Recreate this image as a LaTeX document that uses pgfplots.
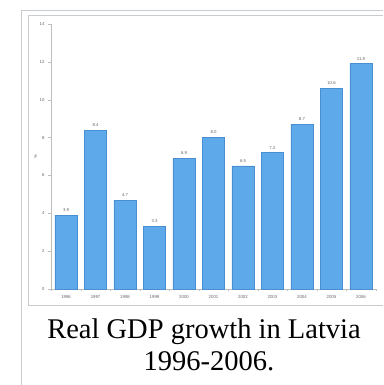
\documentclass[border=0pt]{standalone}
\usepackage{fontspec}
\setmainfont{Liberation Serif}
\newfontfamily\chartsans{Liberation Sans}
\usepackage{pgfplots}
\pgfplotsset{compat=1.18}
\definecolor{barblue}{RGB}{93,169,233}
\definecolor{baredge}{RGB}{72,142,208}
\definecolor{framegray}{RGB}{200,204,209}
\definecolor{axisgray}{RGB}{190,190,190}
\definecolor{labelgray}{RGB}{100,100,100}

\begin{document}
\begin{tikzpicture}[x=1pt,y=1pt]
    \useasboundingbox (0,0) rectangle (383,-385);
    % wiki thumbnail frames
    \draw[framegray, line width=1pt] (383,-11) -- (21,-11) -- (21,-385);
    \draw[framegray, line width=1pt] (383,-16) -- (28,-16) -- (28,-305) -- (383,-305);

    \begin{axis}[at={(51pt,-289pt)}, anchor=south west,
                scale only axis, width=325pt, height=265pt,
                xmin=-0.51, xmax=10.51, ymin=0, ymax=14,
                axis lines*=left,
                axis line style={axisgray, line width=0.8pt},
                ytick={0,2,...,14},
                xtick={0,...,10},
                xticklabels={1996,1997,1998,1999,2000,2001,2002,2003,2004,2005,2006},
                minor xtick={-0.5,0.5,...,10.5},
                tick align=outside,
                major tick length=3pt, minor tick length=2pt,
                every major x tick/.style={draw=none},
                every minor x tick/.style={axisgray},
                every major y tick/.style={axisgray},
                tick label style={font=\chartsans\fontsize{4.3}{5}\selectfont, text=labelgray},
                /pgf/number format/assume math mode=true,
                ylabel={\%},
                ylabel style={font=\chartsans\fontsize{4.3}{5}\selectfont, text=labelgray,
                              at={(axis description cs:-0.047,0.5)}, anchor=center},
                ybar, bar width=0.75, bar shift=0pt,
                nodes near coords,
                nodes near coords style={font=\chartsans\fontsize{4.3}{5}\selectfont, text=labelgray,
                    /pgf/number format/.cd, fixed, fixed zerofill, precision=1, assume math mode=true},
                clip=false,
                ]
        \addplot[fill=barblue, draw=baredge, line width=0.5pt] coordinates {
            (0,3.9) (1,8.4) (2,4.7) (3,3.3) (4,6.9) (5,8.0)
            (6,6.5) (7,7.2) (8,8.7) (9,10.6) (10,11.9)};
    \end{axis}

    \node[anchor=base, font=\fontsize{28.5}{34}\selectfont] at (204,-338) {Real GDP growth in Latvia};
    \node[anchor=base, font=\fontsize{28.5}{34}\selectfont] at (209,-370) {1996-2006.};
\end{tikzpicture}
\end{document}
